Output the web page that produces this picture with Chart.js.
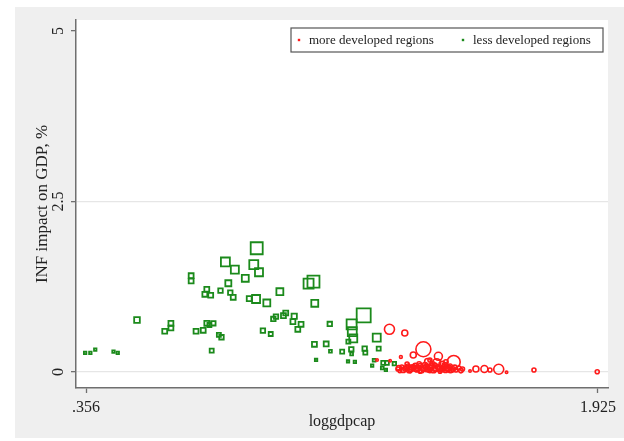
<!DOCTYPE html>
<html>
<head>
<meta charset="utf-8">
<script src="https://cdn.jsdelivr.net/npm/chart.js@4/dist/chart.umd.min.js"></script>
<style>
  body { margin: 0; background: #fff; }
  #wrap { position: absolute; left: 15px; top: 7px; width: 609px; height: 431px; background: #efefef; }
</style>
</head>
<body>
<div id="wrap"><canvas id="chart" width="609" height="431"></canvas></div>
<script>
// more developed regions (red hollow circles)
const moreX = [1.286, 1.333, 1.390, 1.436, 1.483, 1.359, 1.403, 1.431, 1.447, 1.321, 1.248, 1.288,
  1.312, 1.324, 1.334, 1.343, 1.352, 1.361, 1.370, 1.380, 1.389, 1.398, 1.407, 1.416, 1.426, 1.435,
  1.444, 1.453, 1.462, 1.472, 1.481, 1.490, 1.499, 1.510, 1.318, 1.349, 1.380, 1.410, 1.441, 1.472,
  1.456, 1.419, 1.377, 1.340, 1.459, 1.410, 1.533, 1.551, 1.577, 1.594, 1.621, 1.645, 1.729, 1.923,
  1.315, 1.328, 1.338, 1.347, 1.356, 1.366, 1.374, 1.384, 1.393, 1.402, 1.412, 1.421, 1.430, 1.439,
  1.449, 1.458, 1.467, 1.476, 1.486, 1.505, 1.395, 1.425, 1.365];
const moreY = [0.626, 0.572, 0.333, 0.230, 0.147, 0.249, 0.154, 0.136, 0.113, 0.220, 0.176, 0.165,
  0.044, 0.073, 0.044, 0.088, 0.044, 0.073, 0.029, 0.088, 0.044, 0.073, 0.029, 0.088, 0.044, 0.073,
  0.029, 0.073, 0.044, 0.088, 0.044, 0.029, 0.059, 0.044, 0.015, 0.015, 0.007, 0.015, 0.007, 0.015,
  0.103, 0.117, 0.117, 0.117, 0.147, 0.176, 0.015, 0.044, 0.044, 0.029, 0.040, -0.005, 0.029, 0.004,
  0.060, 0.030, 0.060, 0.030, 0.065, 0.050, 0.060, 0.030, 0.060, 0.045, 0.060, 0.030, 0.055, 0.045,
  0.050, 0.030, 0.060, 0.030, 0.065, 0.020, 0.100, 0.095, 0.095];
const moreW = [25, 9, 56, 16, 42, 9, 9, 16, 9, 2, 1.5, 1.5,
  4, 4, 5, 4, 6, 5, 4, 6, 5, 6, 4, 5, 6, 5,
  4, 6, 5, 4, 5, 4, 4, 4, 3, 3, 3, 3, 3, 3,
  6, 5, 5, 4, 5, 4, 1.5, 9, 12, 4, 25, 1.5, 4, 4,
  6, 7, 6, 8, 7, 8, 7, 8, 7, 8, 7, 8, 9, 7,
  8, 7, 8, 6, 6, 5, 7, 6, 5];

// less developed regions (green hollow squares)
const lessX = [0.353, 0.369, 0.384, 0.440, 0.453, 0.512, 0.597, 0.616, 0.616, 0.678, 0.678, 0.693,
  0.715, 0.726, 0.734, 0.746, 0.763, 0.771, 0.741, 0.726, 0.720, 0.738, 0.768, 0.783, 0.792, 0.798,
  0.807, 0.812, 0.844, 0.856, 0.877, 0.879, 0.870, 0.886, 0.910, 0.898, 0.922, 0.930, 0.938, 0.950,
  0.961, 0.968, 0.994, 0.990, 1.015, 1.005, 1.038, 1.053, 1.057, 1.056, 1.092, 1.103, 1.105, 1.061,
  1.141, 1.159, 1.180, 1.170, 1.172, 1.175, 1.160, 1.169, 1.170, 1.207, 1.210, 1.212, 1.247, 1.253,
  1.233, 1.239, 1.267, 1.264, 1.278, 1.301, 1.275];
const lessY = [0.279, 0.279, 0.327, 0.298, 0.279, 0.762, 0.597, 0.714, 0.645, 1.412, 1.334, 0.597,
  0.611, 0.714, 0.689, 0.714, 0.543, 0.509, 0.312, 1.213, 1.139, 1.125, 1.192, 1.613, 1.301, 1.163,
  1.095, 1.500, 1.374, 1.075, 1.070, 1.814, 1.573, 1.462, 1.012, 0.606, 0.557, 0.777, 0.811, 1.177,
  0.826, 0.865, 0.817, 0.738, 0.699, 0.626, 1.295, 1.324, 1.007, 0.406, 0.411, 0.704, 0.304, 0.176,
  0.298, 0.157, 0.147, 0.699, 0.591, 0.494, 0.444, 0.333, 0.264, 0.831, 0.342, 0.283, 0.503, 0.342,
  0.092, 0.172, 0.132, 0.059, 0.132, 0.122, 0.029];
const lessW = [1.5, 1.5, 1.5, 1.5, 1.5, 8, 6, 6, 6, 6, 6, 6,
  6, 6, 4, 5, 4, 5, 4, 6, 6, 6, 5, 20, 9, 5,
  6, 16, 12, 6, 16, 36, 20, 16, 12, 5, 4, 5, 5, 12,
  6, 6, 7, 6, 6, 6, 25, 36, 12, 6, 6, 5, 2, 1.5,
  4, 1.5, 1.5, 25, 20, 16, 4, 5, 2, 49, 5, 4, 16, 4,
  1.5, 2, 4, 2, 4, 3, 1.5];

const yTicks = [0, 2.5, 5];
const xTicks = [0.356, 1.925];
const xTickLabels = ['.356', '1.925'];

const serif = '"Liberation Serif", "DejaVu Serif", serif';
const red = '#ff1a1a';
const green = '#1b8a1b';
const axisGray = '#6f6f6f';

const toPoints = (xs, ys, ws) => xs.map((x, i) => ({ x: x, y: ys[i], w: ws[i] }));

const plotBg = {
  id: 'plotBg',
  beforeDraw(chart) {
    const { ctx, chartArea } = chart;
    ctx.save();
    ctx.fillStyle = '#fff';
    ctx.fillRect(chartArea.left, chartArea.top, chartArea.right - chartArea.left, chartArea.bottom - chartArea.top);
    ctx.restore();
  }
};

const legendBox = {
  id: 'legendBox',
  afterDraw(chart) {
    const { ctx, chartArea } = chart;
    const w = 312, h = 24;
    const x = chartArea.right - 5 - w, y = chartArea.top + 8;
    ctx.save();
    ctx.fillStyle = '#fff';
    ctx.fillRect(x, y, w, h);
    ctx.strokeStyle = '#555';
    ctx.lineWidth = 1.2;
    ctx.strokeRect(x, y, w, h);
    ctx.font = '13px ' + serif;
    ctx.textBaseline = 'middle';
    chart.data.datasets.forEach((ds, i) => {
      const ox = x + 8 + i * 164;
      ctx.fillStyle = ds.borderColor;
      ctx.fillRect(ox - 1.2, y + h / 2 - 1.2, 2.4, 2.4);
      ctx.fillStyle = '#222';
      ctx.fillText(ds.label, ox + 10, y + h / 2 + 1);
    });
    ctx.restore();
  }
};

new Chart(document.getElementById('chart'), {
  type: 'scatter',
  data: {
    datasets: [
      {
        label: 'more developed regions',
        data: toPoints(moreX, moreY, moreW),
        pointStyle: 'circle',
        borderColor: red,
        backgroundColor: 'rgba(0,0,0,0)',
        borderWidth: 1.6,
        pointRadius: (c) => Math.sqrt(c.raw.w)
      },
      {
        label: 'less developed regions',
        data: toPoints(lessX, lessY, lessW),
        pointStyle: 'rect',
        borderColor: green,
        backgroundColor: 'rgba(0,0,0,0)',
        borderWidth: 1.8,
        pointRadius: (c) => Math.sqrt(c.raw.w) / Math.SQRT1_2
      }
    ]
  },
  options: {
    responsive: false,
    animation: false,
    layout: { padding: { left: 0, right: 16, top: 13, bottom: 0 } },
    plugins: { legend: { display: false }, tooltip: { enabled: false } },
    scales: {
      x: {
        type: 'linear',
        min: 0.325,
        max: 1.956,
        afterBuildTicks: (s) => { s.ticks = xTicks.map(v => ({ value: v })); },
        afterFit: (s) => { s.height = 50; },
        ticks: {
          callback: (v) => xTickLabels[xTicks.indexOf(v)],
          font: { family: serif, size: 16 },
          color: '#222',
          padding: 5,
          maxRotation: 0
        },
        grid: { drawOnChartArea: false, tickLength: 5, tickColor: axisGray, tickWidth: 1.3 },
        border: { color: axisGray, width: 1.5 },
        title: { display: true, text: 'loggdpcap', font: { family: serif, size: 16 }, color: '#222', padding: { bottom: 7 } }
      },
      y: {
        type: 'linear',
        min: -0.235,
        max: 5.161,
        afterBuildTicks: (s) => { s.ticks = yTicks.map(v => ({ value: v })); },
        afterFit: (s) => { s.width = 61; },
        ticks: {
          font: { family: serif, size: 16 },
          color: '#222',
          minRotation: 90,
          maxRotation: 90,
          crossAlign: 'center',
          padding: 2
        },
        grid: {
          color: (c) => (c.tick && c.tick.value < 5) ? '#e6e6e6' : 'rgba(0,0,0,0)',
          lineWidth: 1.3,
          tickLength: 5,
          tickColor: axisGray,
          tickWidth: 1.3
        },
        border: { color: axisGray, width: 1.5 },
        title: { display: true, text: 'INF impact on GDP, %', font: { family: serif, size: 17 }, color: '#222', padding: { top: 17 } }
      }
    }
  },
  plugins: [plotBg, legendBox]
});
</script>
</body>
</html>
